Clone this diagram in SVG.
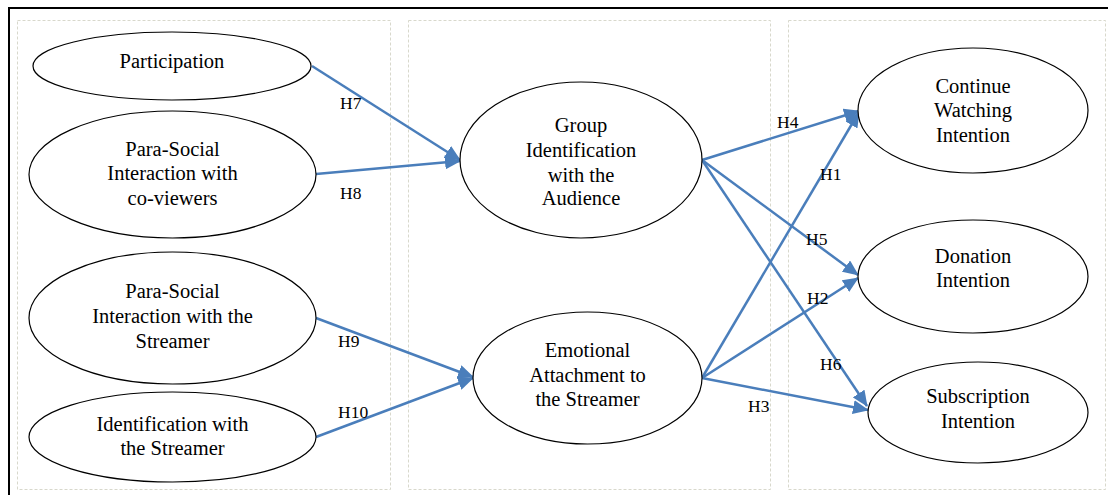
<svg xmlns="http://www.w3.org/2000/svg" width="1108" height="495" viewBox="0 0 1108 495">
<style>
  .frame{stroke:#000;stroke-width:2;fill:none}
  .panel{fill:none;stroke:#d8d8cc;stroke-width:1;stroke-dasharray:3 2}
  .node ellipse{fill:#fff;stroke:#000;stroke-width:1.2}
  text{font-family:'Liberation Serif','Times New Roman',serif}
  .node text{font-size:20.5px;fill:#000;text-anchor:middle}
  .lbl{font-size:17.5px;fill:#000}
  #connectors line{stroke:#4a7ebb;stroke-width:2.5;fill:none;marker-end:url(#ah)}
</style>
<defs>
  <marker id="ah" markerUnits="userSpaceOnUse" markerWidth="16" markerHeight="14" viewBox="0 0 16 14" refX="15" refY="7" orient="auto">
    <path d="M0,0 L16,7 L0,14 z" fill="#4a7ebb"/>
  </marker>
</defs>
<rect width="1108" height="495" fill="#fff"/>
<g id="frame">
  <line class="frame" x1="9" y1="8" x2="1108" y2="8"/>
  <line class="frame" x1="9" y1="7" x2="9" y2="495"/>
  <rect class="panel" x="17.5" y="20.5" width="373" height="469"/>
  <rect class="panel" x="408.5" y="20.5" width="362" height="469"/>
  <rect class="panel" x="788.5" y="20.5" width="317" height="469"/>
</g>
<g id="connectors">
  <line x1="312" y1="66" x2="460" y2="160"/>
  <line x1="316" y1="174" x2="460" y2="161"/>
  <line x1="316" y1="318" x2="473" y2="377"/>
  <line x1="316" y1="437" x2="473" y2="378"/>
  <line x1="702" y1="160" x2="859" y2="111"/>
  <line x1="702" y1="160" x2="858" y2="275"/>
  <line x1="702" y1="160" x2="867" y2="406"/>
  <line x1="702" y1="378" x2="859" y2="112"/>
  <line x1="702" y1="378" x2="858" y2="278"/>
  <line x1="702" y1="378" x2="868" y2="410"/>
</g>
<g id="labels">
  <text class="lbl" x="340" y="109">H7</text>
  <text class="lbl" x="340" y="199">H8</text>
  <text class="lbl" x="338" y="347">H9</text>
  <text class="lbl" x="338" y="418">H10</text>
  <text class="lbl" x="777" y="128">H4</text>
  <text class="lbl" x="820" y="180">H1</text>
  <text class="lbl" x="806" y="245">H5</text>
  <text class="lbl" x="807" y="304">H2</text>
  <text class="lbl" x="820" y="370">H6</text>
  <text class="lbl" x="748" y="412">H3</text>
</g>
<g id="participation" class="node">
  <ellipse cx="172" cy="66" rx="139" ry="34"/>
  <text x="172" y="68">Participation</text>
</g>
<g id="psi-coviewers" class="node">
  <ellipse cx="172.5" cy="174.5" rx="143.5" ry="63.5"/>
  <text x="172.5" y="156">Para-Social</text>
  <text x="172.5" y="180">Interaction with</text>
  <text x="172.5" y="205">co-viewers</text>
</g>
<g id="psi-streamer" class="node">
  <ellipse cx="172.5" cy="318" rx="143.5" ry="66"/>
  <text x="172.5" y="298">Para-Social</text>
  <text x="172.5" y="323">Interaction with the</text>
  <text x="172.5" y="348">Streamer</text>
</g>
<g id="identification-streamer" class="node">
  <ellipse cx="172.5" cy="437" rx="143.5" ry="45"/>
  <text x="172.5" y="431">Identification with</text>
  <text x="172.5" y="455">the Streamer</text>
</g>
<g id="group-identification" class="node">
  <ellipse cx="581" cy="160" rx="121" ry="78"/>
  <text x="581" y="132">Group</text>
  <text x="581" y="157">Identification</text>
  <text x="581" y="182">with the</text>
  <text x="581" y="205">Audience</text>
</g>
<g id="emotional-attachment" class="node">
  <ellipse cx="587.5" cy="378" rx="114.5" ry="66"/>
  <text x="587.5" y="357">Emotional</text>
  <text x="587.5" y="382">Attachment to</text>
  <text x="587.5" y="406">the Streamer</text>
</g>
<g id="continue-watching" class="node">
  <ellipse cx="973" cy="110.5" rx="115" ry="62.5"/>
  <text x="973" y="93">Continue</text>
  <text x="973" y="117">Watching</text>
  <text x="973" y="142">Intention</text>
</g>
<g id="donation" class="node">
  <ellipse cx="973" cy="276.5" rx="115" ry="56.5"/>
  <text x="973" y="263">Donation</text>
  <text x="973" y="287">Intention</text>
</g>
<g id="subscription" class="node">
  <ellipse cx="978" cy="412.5" rx="110" ry="50.5"/>
  <text x="978" y="403">Subscription</text>
  <text x="978" y="428">Intention</text>
</g>
</svg>
